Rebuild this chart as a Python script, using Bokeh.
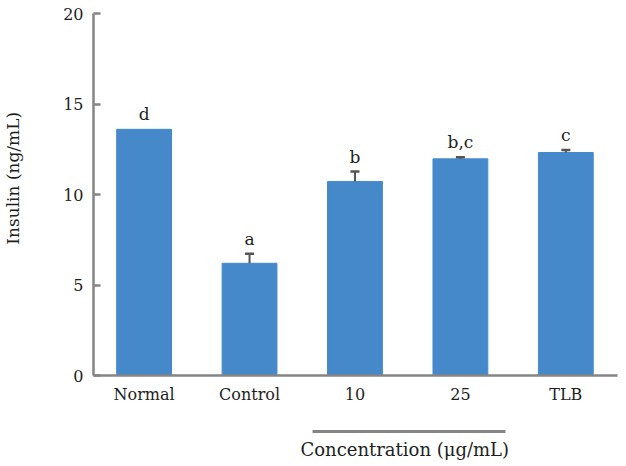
from bokeh.plotting import figure
from bokeh.models import Range1d, FixedTicker, LinearAxis, ColumnDataSource, Title
from bokeh.core.properties import value
from bokeh.embed import file_html
from bokeh.resources import INLINE

# ---- data ----
categories = ["Normal", "Control", "10", "25", "TLB"]
insulin = [13.6, 6.2, 10.72, 11.97, 12.32]
errors = [0.0, 0.52, 0.55, 0.09, 0.14]
letters = ["d", "a", "b", "b,c", "c"]
y_ticks = [0, 5, 10, 15, 20]
conc_group = ["10", "25"]

FONT = "DejaVu Serif"
AXIS_GRAY = "#858585"
TEXT = "#1e1e1e"
BAR = "#4589CB"

xs = list(range(len(categories)))
tops = [v + e for v, e in zip(insulin, errors)]

p = figure(width=618, height=466, output_backend="svg", toolbar_location=None,
           x_range=Range1d(-0.48, 4.49), y_range=Range1d(0, 20),
           min_border_left=92, min_border_right=1, min_border_top=13,
           min_border_bottom=91, outline_line_color=None,
           background_fill_color="white", border_fill_color="white")
p.xgrid.visible = False
p.ygrid.visible = False
p.xaxis.visible = False
p.yaxis.visible = False

src = ColumnDataSource(dict(x=xs, v=insulin, t=tops, lab=letters))
p.vbar(x="x", top="v", width=0.52, source=src, fill_color=BAR, line_color=BAR)

# error bars (upper only)
ex = [x for x, e in zip(xs, errors) if e > 0]
eb = [v for v, e in zip(insulin, errors) if e > 0]
et = [v + e for v, e in zip(insulin, errors) if e > 0]
p.segment(x0=ex, y0=eb, x1=ex, y1=et, line_color="#555555", line_width=2)
p.scatter(x=ex, y=et, marker="dash", size=9, line_color="#555555", line_width=2.5)

p.text(x="x", y="t", text="lab", source=src, text_align="center",
       text_baseline="bottom", y_offset=-5, text_font=value(FONT),
       text_font_size="17px", text_color=TEXT)

# y axis
yax = LinearAxis(ticker=FixedTicker(ticks=y_ticks),
                 axis_line_color=AXIS_GRAY, axis_line_width=2.5,
                 major_tick_line_color=AXIS_GRAY, major_tick_line_width=2.5,
                 major_tick_in=7, major_tick_out=0,
                 minor_tick_in=0, minor_tick_out=0,
                 major_label_standoff=10,
                 major_label_text_font=FONT, major_label_text_font_size="16px",
                 major_label_text_color=TEXT,
                 axis_label="\u00a0" * 6 + "Insulin (ng/mL)", axis_label_standoff=37,
                 axis_label_text_font=FONT, axis_label_text_font_size="17px",
                 axis_label_text_font_style="normal",
                 axis_label_text_color=TEXT)
p.add_layout(yax, "left")

# x axis with category labels
xax = LinearAxis(ticker=FixedTicker(ticks=xs),
                 major_label_overrides={i: c for i, c in enumerate(categories)},
                 axis_line_color=AXIS_GRAY, axis_line_width=2.5,
                 major_tick_in=0, major_tick_out=0,
                 minor_tick_in=0, minor_tick_out=0,
                 major_label_standoff=9,
                 major_label_text_font=FONT, major_label_text_font_size="16px",
                 major_label_text_color=TEXT,
                 axis_label="\u00a0", axis_label_standoff=11,
                 axis_label_text_font_size="10px")
p.add_layout(xax, "below")

# concentration group line
gi = [categories.index(c) for c in conc_group]
cax = LinearAxis(ticker=FixedTicker(ticks=[]), bounds=(gi[0] - 0.4, gi[-1] + 0.43),
                 axis_line_color=AXIS_GRAY, axis_line_width=3,
                 major_tick_in=0, major_tick_out=0,
                 minor_tick_in=0, minor_tick_out=0)
p.add_layout(cax, "below")

# concentration label
ctitle = Title(text="Concentration (\u03bcg/mL)", align="left", offset=207,
               standoff=10, text_font=FONT, text_font_size="18px",
               text_font_style="normal", text_color=TEXT)
p.add_layout(ctitle, "below")

open("out.html", "w").write(file_html(p, INLINE))
